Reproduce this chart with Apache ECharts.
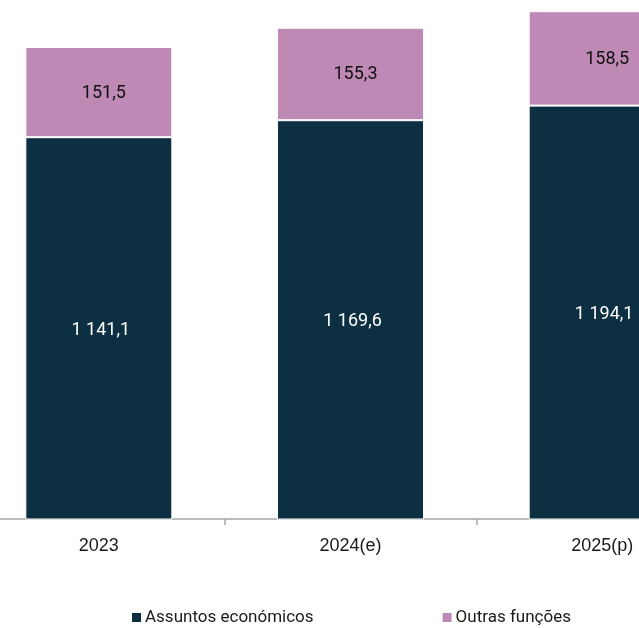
<!DOCTYPE html>
<html>
<head>
<meta charset="utf-8">
<script src="https://cdn.jsdelivr.net/npm/echarts@6/dist/echarts.min.js"></script>
<style>
html,body{margin:0;padding:0;background:#fff;}
#chart{width:639px;height:628px;}
</style>
</head>
<body>
<div id="chart"></div>
<script>
var categories = ['2023', '2024(e)', '2025(p)'];
var assuntosEconomicos = [1141.1, 1169.6, 1194.1];
var outrasFuncoes = [151.5, 155.3, 158.5];
var seriesNames = ['Assuntos económicos', 'Outras funções'];

function fmt(v) {
  var parts = v.toFixed(1).split('.');
  var intPart = parts[0].replace(/\B(?=(\d{3})+(?!\d))/g, ' ');
  return intPart + ',' + parts[1];
}

var chart = echarts.init(document.getElementById('chart'), null, {renderer: 'canvas'});
chart.setOption({
  animation: false,
  backgroundColor: '#ffffff',
  grid: {left: -27, width: 755, top: -17, height: 536, containLabel: false, outerBoundsMode: 'none'},
  legend: {
    left: 125, top: 604,
    itemWidth: 11, itemHeight: 11, itemGap: 127,
    icon: 'rect',
    textStyle: {fontFamily: 'Roboto', fontSize: 17, color: '#1a1a1a', padding: [0, 0, 0, -2]},
    data: seriesNames
  },
  xAxis: {
    type: 'category',
    data: categories,
    axisLine: {show: true, lineStyle: {color: '#a6a6a6', width: 1.5}},
    axisTick: {show: true, length: 6, lineStyle: {color: '#a6a6a6', width: 1.5}},
    axisLabel: {fontFamily: '"Liberation Sans", Arial, sans-serif', fontSize: 18, color: '#1a1a1a', margin: 18}
  },
  yAxis: {
    type: 'value', min: 500, max: 1400, show: false,
    splitLine: {show: false}
  },
  series: [
    {
      name: seriesNames[0], type: 'bar', stack: 'total', barWidth: 147,
      data: assuntosEconomicos,
      itemStyle: {color: '#0d2f42', borderColor: '#ffffff', borderWidth: 1},
      label: {show: true, position: 'inside', offset: [2, 2], color: '#ffffff', fontFamily: 'Roboto', fontSize: 18,
        formatter: function (p) { return fmt(p.value); }}
    },
    {
      name: seriesNames[1], type: 'bar', stack: 'total', barWidth: 147,
      data: outrasFuncoes,
      itemStyle: {color: '#bf89b5', borderColor: '#ffffff', borderWidth: 1},
      label: {show: true, position: 'inside', offset: [5, 1], color: '#111111', fontFamily: 'Roboto', fontSize: 18,
        formatter: function (p) { return fmt(p.value); }}
    }
  ]
});
</script>
</body>
</html>
